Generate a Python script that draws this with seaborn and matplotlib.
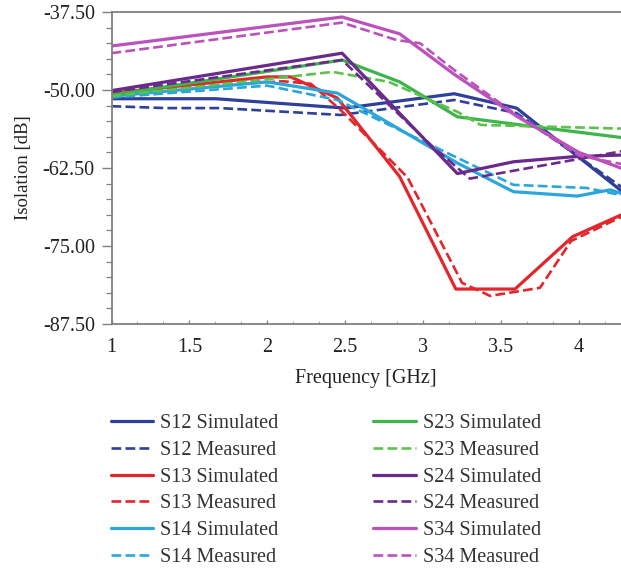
import matplotlib
matplotlib.use("Agg")
import matplotlib.pyplot as plt
from matplotlib.ticker import MultipleLocator, FixedLocator
import seaborn as sns
import pandas as pd

# Isolation between port pairs, simulated vs measured (frequency in GHz, level in dB)
s12_sim_f = [1.0, 1.67, 2.5, 3.2, 3.6, 4.3]
s12_sim_db = [-51.4, -51.4, -52.9, -50.6, -52.9, -66.7]
s12_meas_f = [1.0, 1.35, 1.7, 2.47, 3.2, 3.6, 4.3]
s12_meas_db = [-52.6, -52.9, -52.9, -54.0, -51.6, -53.7, -66.0]

s13_sim_f = [1.0, 2.0, 2.15, 2.45, 2.85, 3.21, 3.59, 3.96, 4.3]
s13_sim_db = [-50.5, -47.9, -47.9, -51.3, -63.9, -81.9, -81.9, -73.5, -69.7]
s13_meas_f = [1.0, 2.1, 2.28, 2.47, 2.9, 3.25, 3.43, 3.75, 3.95, 4.3]
s13_meas_db = [-50.3, -48.6, -49.0, -53.2, -64.0, -80.9, -83.0, -81.7, -74.2, -70.0]

s14_sim_f = [1.0, 2.0, 2.45, 3.22, 3.58, 3.99, 4.2, 4.3]
s14_sim_db = [-51.0, -48.7, -50.5, -61.7, -66.3, -67.0, -66.0, -66.8]
s14_meas_f = [1.0, 2.0, 2.45, 3.58, 4.05, 4.3]
s14_meas_db = [-51.2, -49.3, -51.6, -65.2, -65.7, -67.0]

s23_sim_f = [1.0, 2.48, 2.85, 3.22, 3.69, 4.3]
s23_sim_db = [-50.8, -45.2, -48.7, -54.3, -55.8, -57.7]
s23_meas_f = [1.0, 2.42, 2.78, 3.22, 3.37, 4.3]
s23_meas_db = [-51.0, -47.1, -48.7, -53.5, -55.6, -56.2]

s24_sim_f = [1.0, 2.48, 3.22, 3.58, 3.96, 4.3]
s24_sim_db = [-50.1, -44.1, -63.4, -61.5, -60.7, -60.4]
s24_meas_f = [1.0, 2.48, 3.05, 3.3, 4.3]
s24_meas_db = [-50.3, -45.2, -58.8, -64.2, -59.7]

s34_sim_f = [1.0, 2.48, 2.85, 3.2, 3.6, 4.0, 4.3]
s34_sim_db = [-42.95, -38.3, -41.0, -47.5, -54.2, -60.0, -62.8]
s34_meas_f = [1.0, 2.48, 2.83, 2.98, 3.2, 3.6, 4.0, 4.3]
s34_meas_db = [-44.1, -39.2, -42.0, -42.5, -46.8, -54.0, -60.5, -62.0]

y_ticks = [-87.5, -75.0, -62.5, -50.0, -37.5]
x_ticks = [1, 1.5, 2, 2.5, 3, 3.5, 4]
x_tick_labels = ["1", "1.5", "2", "2.5", "3", "3.5", "4"]

series = [
    ("S12 Simulated", s12_sim_f, s12_sim_db, "#2f3f9c", "-"),
    ("S12 Measured", s12_meas_f, s12_meas_db, "#2f3f9c", "--"),
    ("S13 Simulated", s13_sim_f, s13_sim_db, "#e2262b", "-"),
    ("S13 Measured", s13_meas_f, s13_meas_db, "#e2262b", "--"),
    ("S14 Simulated", s14_sim_f, s14_sim_db, "#2aa6da", "-"),
    ("S14 Measured", s14_meas_f, s14_meas_db, "#2aa6da", "--"),
    ("S23 Simulated", s23_sim_f, s23_sim_db, "#3db54a", "-"),
    ("S23 Measured", s23_meas_f, s23_meas_db, "#5cc24a", "--"),
    ("S24 Simulated", s24_sim_f, s24_sim_db, "#6a2a8c", "-"),
    ("S24 Measured", s24_meas_f, s24_meas_db, "#6a2a8c", "--"),
    ("S34 Simulated", s34_sim_f, s34_sim_db, "#bb52bb", "-"),
    ("S34 Measured", s34_meas_f, s34_meas_db, "#bb52bb", "--"),
]

sns.set_style("white")
plt.rcParams["font.family"] = ["Liberation Serif", "DejaVu Serif"]

fig = plt.figure(figsize=(6.21, 5.69), dpi=100)
ax = fig.add_axes([111.5 / 621, 1 - 324 / 569, 1 - 111.5 / 621, 312 / 569])

for label, f, db, color, ls in series:
    df = pd.DataFrame({"freq": f, "db": db})
    lw = 2.3 if ls == "-" else 1.9
    line_kw = dict(linestyle=ls, linewidth=lw)
    if ls == "--":
        line_kw["dashes"] = (3.4, 2.0)
    sns.lineplot(data=df, x="freq", y="db", ax=ax, color=color, label=label,
                 sort=False, estimator=None, **line_kw)

ax.set_xlim(1, 1 + (621 - 111.5) / 155.8)
ax.set_ylim(-87.5, -37.5)
ax.yaxis.set_major_locator(FixedLocator(y_ticks))
ax.set_yticklabels([f"{v:.2f}" for v in y_ticks])
ax.yaxis.set_minor_locator(MultipleLocator(2.5))
ax.xaxis.set_major_locator(FixedLocator(x_ticks))
ax.set_xticklabels(x_tick_labels)
ax.xaxis.set_minor_locator(MultipleLocator(1 / 6))

spine_col = "#808080"
for side in ["left", "bottom", "top"]:
    ax.spines[side].set_color(spine_col)
    ax.spines[side].set_linewidth(1.3)
ax.spines["right"].set_visible(False)

ax.tick_params(axis="y", which="major", direction="out", length=7, width=1.0,
               color=spine_col, labelsize=14.5, labelcolor="#222222", pad=5, left=True)
ax.tick_params(axis="y", which="minor", direction="out", length=4, width=0.9,
               color=spine_col, left=True)
ax.tick_params(axis="x", which="major", direction="in", length=3, width=0.9,
               color=spine_col, labelsize=14.5, labelcolor="#222222", pad=10, bottom=True)
ax.tick_params(axis="x", which="minor", direction="in", length=2, width=0.7,
               color="#aaaaaa", bottom=True)

ax.set_xlabel("Frequency [GHz]", fontsize=14.5, color="#222222", labelpad=9)
ax.set_ylabel("Isolation [dB]", fontsize=13.5, color="#222222", labelpad=8)

handles, labels = ax.get_legend_handles_labels()
ax.get_legend().remove()
fig.legend(handles, labels, ncol=2, loc="upper left", bbox_to_anchor=(103 / 621, 1 - 406 / 569),
           frameon=False, fontsize=14.5, handlelength=2.1, handletextpad=0.35,
           columnspacing=4.7, labelspacing=0.38, borderaxespad=0, labelcolor="#333333")

fig.savefig("out.png", dpi=100)
